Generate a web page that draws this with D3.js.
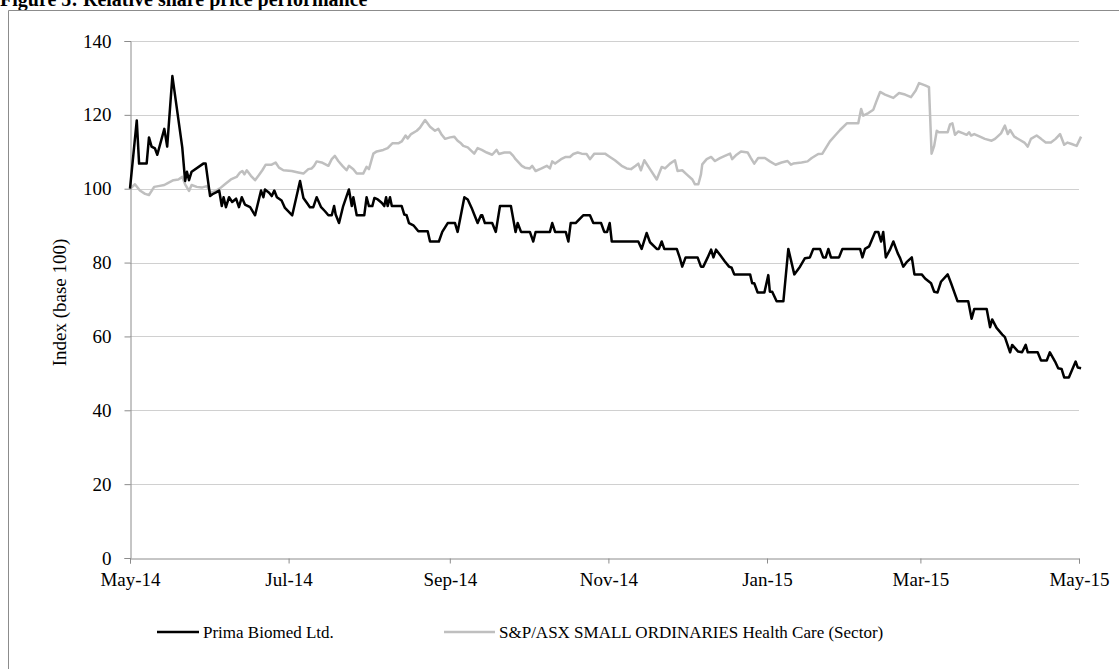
<!DOCTYPE html>
<html>
<head>
<meta charset="utf-8">
<script src="https://cdn.jsdelivr.net/npm/d3@7"></script>
<style>
  html, body { margin: 0; padding: 0; background: #fff; }
  svg { display: block; }
  text { font-family: "Liberation Serif", "Times New Roman", serif; fill: #000; }
</style>
</head>
<body>
<svg id="chart" width="1119" height="669"></svg>
<script>
// ---- DATA (days since 1 May 2014, index base 100) ----
const startDate = Date.UTC(2014, 4, 1);
const endDate = Date.UTC(2015, 4, 1);

const primaDays = [
  0,2.6,3.5,6.4,7.3,8.3,9.6,10.5,13.2,14.3,
  16.3,20.1,21.2,21.9,22.7,23.7,28.2,29.1,30.8,31.7,
  33.1,34.3,35.3,36.0,36.9,38.1,39.3,40.8,41.9,43.0,
  44.2,46.2,48.1,50.4,51.3,51.9,53.5,54.5,55.5,56.5,
  58.3,59.6,62.4,65.4,66.7,68.0,69.2,70.5,71.8,73.5,
  75.0,76.3,77.6,78.5,79.1,80.4,82.0,84.2,85.3,85.9,
  87.2,90.1,91.0,91.9,93.2,94.0,95.3,96.8,97.8,98.5,
  99.1,100.0,100.7,104.5,105.5,106.4,107.3,109.0,110.9,114.5,
  115.4,118.8,120.1,122.2,125.0,126.0,128.6,129.9,131.4,132.4,
  133.7,135.0,135.5,136.5,139.3,140.7,142.3,146.5,148.3,149.1,
  150.4,153.8,155.1,156.0,161.5,162.4,163.5,167.6,168.6,169.5,
  171.4,174.3,176.9,178.2,181.2,182.4,183.5,184.5,185.3,195.5,
  196.8,198.7,200.0,202.6,203.4,204.5,205.5,210.3,211.5,212.4,
  213.7,218.3,219.6,220.5,222.2,223.5,224.4,225.4,226.9,228.8,
  230.4,231.4,232.4,238.5,239.3,240.1,241.4,244.0,245.5,246.1,
  247.0,248.7,251.3,253.2,255.5,257.7,259.6,261.5,262.8,265.4,
  266.6,267.6,268.6,269.6,272.7,274.0,280.8,281.7,282.7,284.3,
  286.6,287.8,288.9,289.7,290.7,292.3,293.6,295.3,296.2,297.4,
  298.7,300.7,301.7,304.5,305.8,308.1,309.3,310.6,311.9,314.5,
  315.8,318.3,322.4,323.7,324.7,329.5,330.8,331.6,333.3,335.5,
  336.5,338.5,339.3,341.6,343.1,344.5,345.3,349.1,350.4,352.6,
  353.8,355.8,357.0,358.3,359.3,361.1,363.7,364.5,365.8];
const primaValues = [
  100,118.5,106.8,106.8,113.9,111.4,110.9,109.2,116.2,111.4,
  130.5,111.2,102.1,104.6,102.3,104.6,106.8,106.8,98,98.5,
  99,99.5,95.3,97.7,95,97.7,96.4,97.3,95,97.7,
  95.7,95,92.8,99.5,97.7,99.8,98.9,98,99.5,97.7,
  96.8,94.8,92.8,102.1,97.5,96.2,95,95,97.7,95,
  93.9,92.8,92.8,95.3,93,90.7,95.3,99.8,95.3,97.7,
  92.8,92.8,97.7,95.3,95.3,97.5,97.1,96.2,95.3,97.7,
  95.3,97.7,95.3,95.3,93,92.8,90.7,90.1,88.5,88.5,
  85.7,85.7,88.3,90.7,90.7,88.3,97.7,97.1,94.8,93,
  90.7,92.8,92.8,90.7,90.7,88.3,95.3,95.3,88.3,90.7,
  88.3,88.3,85.7,88.3,88.3,90.7,88.3,88.3,85.7,90.7,
  90.7,92.8,92.8,90.7,90.7,88.3,88.3,90.7,85.7,85.7,
  83.7,88,85.5,83.7,83.7,85.7,83.7,83.7,81.2,78.9,
  81.4,81.4,78.9,78.9,81.4,83.5,81.4,83.5,82.1,80.3,
  78.9,78.6,76.8,76.8,74.4,74.4,71.9,71.9,76.6,72.1,
  72.1,69.5,69.5,83.7,76.8,78.9,81.2,81.4,83.7,83.7,
  81.4,81.4,83.7,81.4,81.4,83.7,83.7,81.4,83.7,84.4,
  88.3,88.3,85.7,88.3,81.4,83.5,85.7,82.5,81.2,78.9,
  80.1,81.4,76.8,76.8,75.7,74.4,72.1,71.9,74.8,76.8,
  74.4,69.5,69.5,64.8,67.4,67.4,62.5,64.6,62.3,60.5,
  59.8,55.7,57.7,55.9,55.7,57.7,55.7,55.7,53.5,53.5,
  55.7,53.2,51.4,51.2,48.9,48.9,53.2,51.6,51.4];

const sectorDays = [
  0,1.9,3.8,5.8,7.3,9.3,10.9,13.2,14.7,16.7,
  18.6,20.1,21.2,22.7,23.7,25.7,27.6,29.5,31.2,33.0,
  34.6,36.5,38.8,41.0,42.3,43.2,44.0,44.9,46.5,48.1,
  49.6,50.9,52.2,54.5,56.0,57.3,59.0,62.2,64.7,66.7,
  68.6,69.9,70.8,71.8,73.7,76.3,77.6,78.8,80.1,81.7,
  83.3,84.2,85.9,87.2,89.7,91.0,91.9,93.6,94.9,97.4,
  99.1,100.9,103.2,104.5,106.0,106.8,108.1,110.3,111.5,113.5,
  115.4,117.3,118.6,119.9,121.2,123.1,124.7,126.0,127.3,128.2,
  129.9,132.4,133.7,135.3,137.2,139.3,141.0,141.9,144.0,146.2,
  147.4,148.3,149.1,150.7,151.9,153.8,154.7,156.0,158.3,160.3,
  161.5,162.4,163.5,165.8,167.6,169.2,170.5,172.2,173.7,175.6,
  176.9,178.6,182.7,184.6,186.5,189.1,191.0,192.7,194.5,195.5,
  196.5,197.8,200.0,202.6,204.5,205.8,207.7,209.6,210.6,212.4,
  214.1,216.3,217.3,218.6,219.6,220.1,221.8,223.5,225.0,226.9,
  228.8,230.8,231.6,233.3,235.0,237.6,238.8,240.1,241.6,244.2,
  246.1,248.3,250.6,252.9,254.2,255.1,258.3,260.6,262.2,264.7,
  266.3,267.6,269.2,271.2,273.1,275.7,280.1,281.2,282.0,284.0,
  285.9,287.0,288.5,290.4,293.6,295.8,298.1,300.4,302.2,303.5,
  305.8,307.3,308.3,309.3,310.3,311.1,314.5,315.4,316.3,317.3,
  318.6,320.5,321.8,322.7,323.5,324.7,326.9,328.8,331.4,332.7,
  335.0,336.5,337.6,338.5,340.1,342.3,344.0,345.3,346.5,348.7,
  350.4,352.2,354.2,356.0,357.7,359.3,360.6,362.2,364.1,365.8];
const sectorValues = [
  100,101.2,99.5,98.6,98.3,100.5,100.7,101,101.6,102.3,
  102.5,103.2,101.2,99.4,101,100.5,100.3,100.7,98.9,99.4,
  100.1,101.2,102.5,103.2,104.4,104.8,103.9,105,103.5,102.3,
  103.7,105,106.5,106.5,107.1,105.7,105,104.8,104.4,104.1,
  105.3,105.5,106.2,107.4,107.1,106.2,108,108.9,107.5,106.2,
  105,106.2,105.3,104.1,104.1,105.9,105.3,109.5,110.1,110.5,
  111,112.3,112.3,112.8,114.4,113.6,114.8,115.7,116.5,118.6,
  116.8,115.7,116.2,114.6,113.5,113.9,114.1,113,112.3,111.6,
  111.2,109.5,111,110.5,109.8,109.2,110.5,109.4,109.8,109.8,
  108.9,108,107.4,106.2,105.7,105.5,106.2,104.8,105.5,106.2,
  105.5,107.4,106.8,108,108.6,108.6,109.4,109.8,109.5,109.4,
  108,109.5,109.5,108.6,107.7,106.2,105.5,105.3,106.2,106.8,
  105,107.7,105.3,102.5,105.9,105.5,106.8,107.7,104.8,105,
  103.9,102.5,101.2,101.2,103.9,106.6,108,108.6,107.5,108.3,
  108.9,109.5,108,109.2,110.1,109.8,108.3,106.8,108.3,108.3,
  107.4,106.5,107.1,107.5,106.5,106.8,107.1,107.4,108.3,109.4,
  109.5,111,112.8,114.4,115.9,117.7,117.7,121.6,119.8,120.5,
  121.4,123.5,126.2,125.5,124.6,125.9,125.5,124.8,126.6,128.6,
  128,127.5,109.5,111.6,115.7,115.3,115.3,117.4,117.7,114.6,
  115.5,115,114.6,115.3,114.4,114.8,114.1,113.5,113,113.5,
  115,117.1,114.8,115.9,114.1,113.2,112.5,111.4,113.5,114.4,
  113.5,112.5,112.5,113.5,114.8,111.9,112.5,112.1,111.6,114.1];

const yTicks = [0, 20, 40, 60, 80, 100, 120, 140];
const xTickDates = ["2014-05-01","2014-07-01","2014-09-01","2014-11-01","2015-01-01","2015-03-01","2015-05-01"];
const xTickLabels = ["May-14","Jul-14","Sep-14","Nov-14","Jan-15","Mar-15","May-15"];
const seriesNames = ["Prima Biomed Ltd.", "S&P/ASX SMALL ORDINARIES Health Care (Sector)"];
const titleText = "Figure 5: Relative share price performance";
const yAxisTitle = "Index (base 100)";

(function () {
  const svg = d3.select("#chart");
  const pLeft = 130, pRight = 1079, pTop = 41, pBottom = 558;

  const x = d3.scaleUtc().domain([new Date(startDate), new Date(endDate)]).range([pLeft, pRight]);
  const y = d3.scaleLinear().domain([0, 140]).range([pBottom, pTop]);
  const toDate = d => new Date(startDate + d * 864e5);

  // title (partly cut off at top)
  svg.append("text").attr("x", 0).attr("y", 6)
    .style("font-weight", "bold").style("font-size", "20px").text(titleText);

  // frame
  svg.append("path").attr("d", "M8.5,669 L8.5,10.5 L1119,10.5")
    .attr("fill", "none").attr("stroke", "#8c8c8c").attr("stroke-width", 1);

  // gridlines
  svg.append("g").selectAll("line").data(yTicks.filter(t => t > 0)).join("line")
    .attr("x1", pLeft).attr("x2", pRight)
    .attr("y1", d => Math.round(y(d)) + 0.5).attr("y2", d => Math.round(y(d)) + 0.5)
    .attr("stroke", "#d0d0d0").attr("stroke-width", 1);

  // y axis
  const yAxis = svg.append("g").attr("transform", `translate(${pLeft + 0.5},0)`)
    .call(d3.axisLeft(y).tickValues(yTicks).tickSize(6).tickPadding(13).tickFormat(d3.format("d")));
  yAxis.select(".domain").attr("stroke", "#8c8c8c");
  yAxis.selectAll(".tick line").attr("stroke", "#8c8c8c");
  yAxis.selectAll(".tick text").style("font-size", "19px").attr("fill", "#000")
    .style("font-family", '"Liberation Serif", serif');

  // x axis
  const parse = d3.utcParse("%Y-%m-%d");
  const xTickVals = xTickDates.map(parse);
  const xAxis = svg.append("g").attr("transform", `translate(0,${pBottom + 0.5})`)
    .call(d3.axisBottom(x).tickValues(xTickVals).tickSize(5).tickPadding(9)
      .tickFormat((d, i) => xTickLabels[i]));
  xAxis.select(".domain").attr("stroke", "#8c8c8c");
  xAxis.selectAll(".tick line").attr("stroke", "#8c8c8c");
  xAxis.selectAll(".tick text").style("font-size", "19px").attr("fill", "#000")
    .style("font-family", '"Liberation Serif", serif');

  // y axis title
  svg.append("text")
    .attr("transform", `translate(66,${(pTop + pBottom) / 2 + 3}) rotate(-90)`)
    .attr("text-anchor", "middle").style("font-size", "19px").text(yAxisTitle);

  // lines
  const line = d3.line().x(d => x(toDate(d[0]))).y(d => y(d[1]));
  const sectorData = d3.zip(sectorDays, sectorValues);
  const primaData = d3.zip(primaDays, primaValues);

  svg.append("path").datum(sectorData).attr("d", line)
    .attr("fill", "none").attr("stroke", "#bfbfbf").attr("stroke-width", 2.5)
    .attr("stroke-linejoin", "round");
  svg.append("path").datum(primaData).attr("d", line)
    .attr("fill", "none").attr("stroke", "#000").attr("stroke-width", 2.5)
    .attr("stroke-linejoin", "round");

  // legend
  const legendY = 632;
  const legend = [
    { name: seriesNames[0], color: "#000", x0: 157, x1: 199, tx: 203 },
    { name: seriesNames[1], color: "#bfbfbf", x0: 444, x1: 495, tx: 499 }
  ];
  legend.forEach(l => {
    svg.append("line").attr("x1", l.x0).attr("x2", l.x1).attr("y1", legendY).attr("y2", legendY)
      .attr("stroke", l.color).attr("stroke-width", 2.5);
    svg.append("text").attr("x", l.tx).attr("y", legendY + 6).style("font-size", "17px").text(l.name);
  });
})();
</script>
</body>
</html>
